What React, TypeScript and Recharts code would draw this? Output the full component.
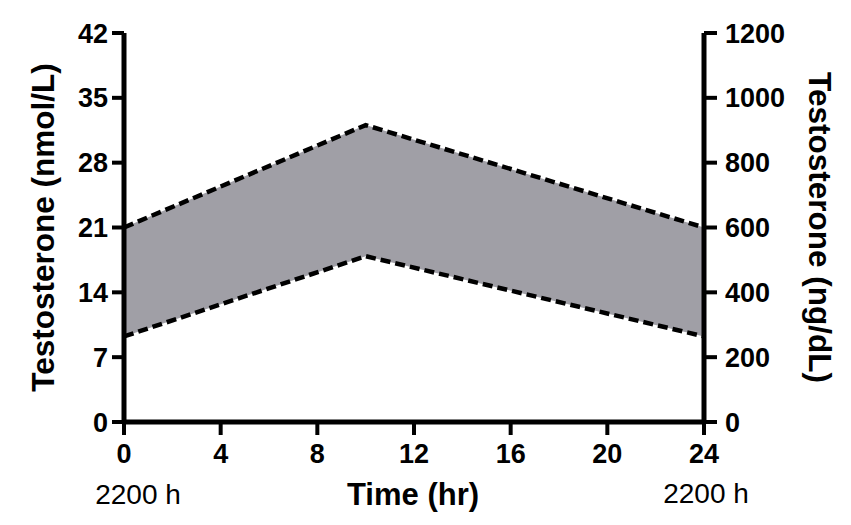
import React from 'react';
import { ComposedChart, Area, Line, XAxis, YAxis } from 'recharts';

const hours = [0, 10, 24];
const lowerNmol = [9.24, 17.9, 9.24];
const upperNmol = [21, 32.06, 21];
const upperNgdl = [600, 916, 600];
const xTicks = [0, 4, 8, 12, 16, 20, 24];
const leftTicks = [0, 7, 14, 21, 28, 35, 42];
const rightTicks = [0, 200, 400, 600, 800, 1000, 1200];
const leftTitle = 'Testosterone (nmol/L)';
const rightTitle = 'Testosterone (ng/dL)';
const xTitle = 'Time (hr)';
const clockLabel = '2200 h';

const data = hours.map((h, i) => ({
  t: h,
  lower: lowerNmol[i],
  upper: upperNmol[i],
  range: [lowerNmol[i], upperNmol[i]],
  upperNg: upperNgdl[i],
}));

const FONT = '"Liberation Sans", Arial, Helvetica, sans-serif';
const tickStyle = { fontSize: 27, fontWeight: 700, fill: '#000', fontFamily: FONT };

const XLabels = (props: any) => {
  const vb = props.viewBox || {};
  const x0 = vb.x;
  const w = vb.width;
  const top = vb.y;
  return (
    <g>
      <text x={x0 + w / 2 - 1} y={top + 83} textAnchor="middle" fontSize={31} fontWeight={700} fontFamily={FONT} fill="#000">
        {xTitle}
      </text>
      <text x={x0 + 14} y={top + 82} textAnchor="middle" fontSize={28} fontWeight={400} fontFamily={FONT} fill="#000">
        {clockLabel}
      </text>
      <text x={x0 + w + 2} y={top + 81} textAnchor="middle" fontSize={28} fontWeight={400} fontFamily={FONT} fill="#000">
        {clockLabel}
      </text>
    </g>
  );
};

const LeftTitle = (props: any) => {
  const vb = props.viewBox || {};
  const cy = vb.y + vb.height / 2;
  const x = 54;
  return (
    <text x={x} y={cy} transform={`rotate(-90, ${x}, ${cy})`} textAnchor="middle" fontSize={31.5} fontWeight={700} fontFamily={FONT} fill="#000">
      {leftTitle}
    </text>
  );
};

const RightTitle = (props: any) => {
  const vb = props.viewBox || {};
  const cy = vb.y + vb.height / 2;
  const x = 809;
  return (
    <text x={x} y={cy} transform={`rotate(90, ${x}, ${cy})`} textAnchor="middle" fontSize={31.5} fontWeight={700} fontFamily={FONT} fill="#000">
      {rightTitle}
    </text>
  );
};

export default function App() {
  return (
    <div style={{ position: 'absolute', left: 0, top: 0, width: 851, height: 525, background: '#fff' }}>
      <ComposedChart width={851} height={525} data={data} margin={{ top: 33, right: 0, bottom: 0, left: 0 }}>
        <XAxis
          dataKey="t"
          type="number"
          domain={[0, 24]}
          ticks={xTicks}
          height={103}
          axisLine={{ stroke: '#000', strokeWidth: 5 }}
          tickLine={{ stroke: '#000', strokeWidth: 4 }}
          tickSize={13}
          tickMargin={9}
          tick={tickStyle}
          interval={0}
          label={<XLabels />}
        />
        <YAxis
          yAxisId="left"
          orientation="left"
          domain={[0, 42]}
          ticks={leftTicks}
          width={124}
          axisLine={{ stroke: '#000', strokeWidth: 5 }}
          tickLine={{ stroke: '#000', strokeWidth: 4 }}
          tickSize={12}
          tickMargin={4}
          tick={tickStyle}
          interval={0}
          label={<LeftTitle />}
        />
        <YAxis
          yAxisId="right"
          orientation="right"
          type="number"
          domain={[0, 1200]}
          ticks={rightTicks}
          width={147}
          axisLine={{ stroke: '#000', strokeWidth: 5 }}
          tickLine={{ stroke: '#000', strokeWidth: 4 }}
          tickSize={13}
          tickMargin={8}
          tick={tickStyle}
          interval={0}
          label={<RightTitle />}
        />
        <Area
          yAxisId="left"
          type="linear"
          dataKey="range"
          stroke="none"
          fill="#a09fa6"
          fillOpacity={1}
          isAnimationActive={false}
        />
        <Line yAxisId="right" type="linear" dataKey="upperNg" stroke="none" strokeOpacity={0} dot={false} activeDot={false} isAnimationActive={false} />
        <Line yAxisId="left" type="linear" dataKey="upper" stroke="#000" strokeWidth={4.5} strokeDasharray="10 5" dot={false} isAnimationActive={false} />
        <Line yAxisId="left" type="linear" dataKey="lower" stroke="#000" strokeWidth={4.5} strokeDasharray="10 5" dot={false} isAnimationActive={false} />
      </ComposedChart>
    </div>
  );
}
